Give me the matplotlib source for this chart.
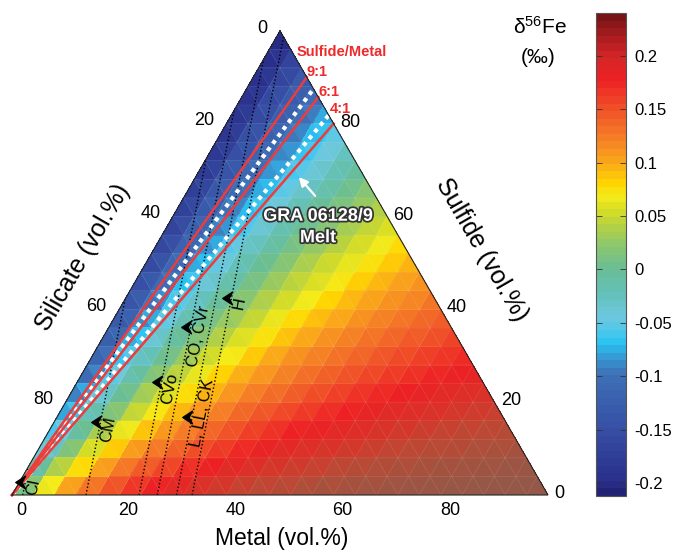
import numpy as np
import matplotlib
matplotlib.use('Agg')
import matplotlib.pyplot as plt
import matplotlib.tri as mtri
from matplotlib.colors import LinearSegmentedColormap, Normalize
from matplotlib.cm import ScalarMappable
from matplotlib.path import Path
import matplotlib.patheffects as pe

plt.rcParams['font.family'] = ['Liberation Sans', 'DejaVu Sans']
plt.rcParams['axes.unicode_minus'] = False
plt.rcParams['mathtext.fontset'] = 'custom'
plt.rcParams['mathtext.rm'] = 'Liberation Sans'
plt.rcParams['mathtext.it'] = 'Liberation Sans:italic'

# delta56Fe (per mil x 1000) at mesh nodes; row i = sulfide i*4 vol.%,
# entry j = metal j*4 vol.% (silicate = remainder)
delta_rows = [
    [0, 63, 103, 132, 154, 170, 184, 194, 203, 211, 217, 223, 228, 232, 236, 239, 242, 245, 247, 250, 252, 254, 255, 257, 259, 260],
    [-31, 32, 75, 106, 129, 148, 163, 175, 185, 194, 201, 208, 213, 218, 223, 227, 230, 233, 236, 239, 242, 244, 246, 248, 250],
    [-55, 7, 50, 83, 108, 128, 144, 157, 168, 178, 186, 193, 200, 205, 210, 215, 219, 223, 226, 229, 232, 235, 237, 239],
    [-76, -15, 29, 62, 88, 109, 126, 140, 152, 163, 172, 180, 187, 193, 198, 203, 208, 212, 216, 219, 223, 225, 228],
    [-93, -34, 10, 44, 70, 92, 110, 125, 138, 149, 158, 167, 174, 181, 187, 193, 198, 202, 206, 210, 213, 217],
    [-108, -50, -7, 27, 54, 76, 95, 111, 124, 136, 146, 155, 163, 170, 176, 182, 188, 192, 197, 201, 205],
    [-120, -64, -21, 12, 40, 62, 81, 97, 111, 123, 134, 143, 152, 159, 166, 172, 178, 183, 188, 192],
    [-131, -77, -35, -1, 26, 49, 68, 85, 99, 112, 123, 133, 141, 149, 156, 163, 169, 174, 179],
    [-140, -88, -47, -14, 14, 37, 56, 73, 88, 101, 112, 122, 131, 140, 147, 154, 160, 166],
    [-149, -98, -58, -25, 2, 25, 45, 62, 77, 90, 102, 112, 122, 130, 138, 145, 151],
    [-156, -108, -68, -36, -9, 15, 34, 52, 67, 80, 92, 103, 113, 121, 129, 137],
    [-163, -116, -77, -45, -18, 5, 25, 42, 57, 71, 83, 94, 104, 113, 121],
    [-169, -123, -86, -54, -28, -5, 15, 33, 48, 62, 74, 85, 96, 105],
    [-175, -130, -94, -63, -36, -13, 7, 24, 40, 54, 66, 77, 88],
    [-180, -137, -101, -70, -44, -22, -2, 16, 31, 45, 58, 69],
    [-184, -143, -108, -78, -52, -29, -10, 8, 24, 38, 50],
    [-188, -148, -114, -84, -59, -37, -17, 1, 16, 30],
    [-192, -153, -120, -91, -66, -43, -24, -6, 9],
    [-196, -158, -125, -97, -72, -50, -31, -13],
    [-199, -162, -130, -102, -78, -56, -37],
    [-202, -166, -135, -108, -83, -62],
    [-205, -170, -139, -113, -89],
    [-208, -174, -144, -117],
    [-210, -177, -148],
    [-213, -180],
    [-215],
]

ratio_values = [9, 6, 4]
ratio_labels = ['9:1', '6:1', '4:1']
melt_ratios = [7, 4.5]
chondrite_names = ['CI', 'CM', 'CVo', 'CO, CVr', 'L, LL, CK', 'H']
chondrite_metal = [0.020, 0.138, 0.237, 0.271, 0.307, 0.336]
arrow_sulfide = [0.028, 0.157, 0.243, 0.362, 0.168, 0.425]
text_sulfide = [0.020, 0.145, 0.232, 0.345, 0.180, 0.416]
tick_values = [0, 20, 40, 60, 80]
cbar_ticks = [-0.2, -0.15, -0.1, -0.05, 0, 0.05, 0.1, 0.15, 0.2]
cbar_ticklabels = ['-0.2', '-0.15', '-0.1', '-0.05', '0', '0.05', '0.1', '0.15', '0.2']

SQ3 = np.sqrt(3) / 2
DIR_M, DIR_S = -0.327, -0.673


def tern(f, m):
    return m + f / 2.0, f * SQ3


def px(xp, yp):
    return (xp - 12) / 536.0, (495 - yp) / 536.0


cbar_stops = [(-0.212, (35, 35, 118)), (-0.2, (42, 48, 140)), (-0.15, (55, 80, 165)),
              (-0.1, (62, 112, 182)), (-0.085, (55, 150, 210)), (-0.07, (40, 195, 242)),
              (-0.058, (80, 200, 235)), (-0.045, (110, 200, 222)), (-0.025, (100, 193, 188)),
              (0.0, (105, 190, 150)), (0.02, (135, 197, 115)), (0.04, (178, 208, 70)),
              (0.055, (212, 220, 38)), (0.07, (245, 235, 25)), (0.082, (255, 212, 0)),
              (0.1, (250, 170, 25)), (0.125, (245, 125, 38)), (0.15, (240, 85, 40)),
              (0.18, (237, 32, 36)), (0.2, (215, 38, 40)), (0.22, (172, 28, 32)),
              (0.24, (120, 20, 22))]
field_extra = [(0.205, (212, 55, 42)), (0.22, (188, 72, 52)), (0.235, (165, 82, 62)),
               (0.25, (150, 87, 70)), (0.27, (140, 90, 74))]


def make_cmap(stops, name, n):
    lo, hi = stops[0][0], stops[-1][0]
    return LinearSegmentedColormap.from_list(
        name, [((v - lo) / (hi - lo), tuple(c / 255 for c in col)) for v, col in stops], N=n), lo, hi


cb_cmap, cb_lo, cb_hi = make_cmap(cbar_stops, 'cb', 64)
field_stops = [s for s in cbar_stops if s[0] <= 0.19] + field_extra
fd_cmap, fd_lo, fd_hi = make_cmap(field_stops, 'fd', 256)

fig = plt.figure(figsize=(6.78, 5.52), dpi=100)
ax = fig.add_axes([0, 0, 1, 1])
ax.set_xlim(-12 / 536, 666 / 536)
ax.set_ylim(-57 / 536, 495 / 536)
ax.axis('off')

xs, ys, vals = [], [], []
n = len(delta_rows) - 1
for i, row in enumerate(delta_rows):
    for j, v in enumerate(row):
        x, y = tern(i / n, j / n)
        xs.append(x); ys.append(y); vals.append(v / 1000.0)
triang = mtri.Triangulation(xs, ys)
ax.tripcolor(triang, vals, cmap=fd_cmap, norm=Normalize(fd_lo, fd_hi), shading='flat',
             edgecolors='none', zorder=1)
ax.triplot(triang, color='white', lw=0.4, alpha=0.15, zorder=2)

arrow_path = Path([(-1.0, 0.0), (0.0, 0.65), (-0.35, 0.0), (0.0, -0.65), (-1.0, 0.0)],
                  [Path.MOVETO, Path.LINETO, Path.LINETO, Path.LINETO, Path.CLOSEPOLY])
ang = np.degrees(np.arctan2(SQ3, DIR_M + 0.5))
for name, p, fa, ft in zip(chondrite_names, chondrite_metal, arrow_sulfide, text_sulfide):
    t = min(p / -DIR_M, (1 - p) / -DIR_S, 1.0)
    x0, y0 = tern(0, p)
    x1, y1 = tern(t, p + DIR_M * t)
    ax.plot([x0, x1], [y0, y1], color='black', lw=1.0, ls=(0, (1, 1.6)), zorder=3)
    xa, ya = tern(fa, p + DIR_M * fa)
    ax.plot([xa], [ya], marker=arrow_path, ms=14, color='black', mec='black', zorder=6)
    xt, yt = tern(ft, p + DIR_M * ft)
    ax.annotate(name, (xt, yt), xytext=(6.5, -1), textcoords='offset points', rotation=ang,
                ha='center', va='center', fontsize=12, zorder=6, rotation_mode='anchor')

for r in melt_ratios:
    q = r / (r + 1.0)
    x1, y1 = tern(q, 1 - q)
    ax.plot([0, x1], [0, y1], color='white', lw=3.0, ls=(0, (1, 1.1)), zorder=4)

ratio_offsets = [(0, 3.6), (0, 3.6), (-2.6, 10.8)]
for r, lab, off in zip(ratio_values, ratio_labels, ratio_offsets):
    q = r / (r + 1.0)
    x1, y1 = tern(q, 1 - q)
    ax.plot([0, x1], [0, y1], color='#ee3b3b', lw=1.8, zorder=5)
    ax.annotate(lab, (x1, y1), xytext=off, textcoords='offset points', ha='left',
                va='center', fontsize=10.5, fontweight='bold', color='#ee2a2a', zorder=7)
ax.text(*px(297, 52), 'Sulfide/Metal', ha='left', va='center', fontsize=10.5,
        fontweight='bold', color='#ee2a2a', zorder=7)

ax.plot([0, 1, 0.5, 0], [0, 0, SQ3, 0], color='#222222', lw=0.8, zorder=5,
        solid_joinstyle='miter')

for v in tick_values:
    x, y = tern(0, v / 100)
    ax.annotate(str(v), (x, y), xytext=(6.5, -11.5), textcoords='offset points',
                ha='center', va='center', fontsize=13)
    x, y = tern(v / 100, 1 - v / 100)
    ax.annotate(str(v), (x, y), xytext=(4.5, 1), textcoords='offset points',
                ha='left', va='center', fontsize=13)
    x, y = tern(1 - v / 100, 0)
    ax.annotate(str(v), (x, y), xytext=(-9, 2), textcoords='offset points',
                ha='right', va='center', fontsize=13)

ax.text(*px(282, 539), 'Metal (vol.%)', ha='center', va='center', fontsize=16.5)
ax.text(*px(83, 258), 'Silicate (vol.%)', ha='center', va='center', fontsize=18, rotation=60)
ax.text(*px(482, 250), 'Sulfide (vol.%)', ha='center', va='center', fontsize=18, rotation=-60)

gra = ax.text(*px(318, 227), 'GRA 06128/9\nMelt', ha='center', va='center', fontsize=13,
              fontweight='bold', color='white', linespacing=1.35, zorder=8)
gra.set_path_effects([pe.withStroke(linewidth=2.5, foreground='#333333')])
ax.annotate('', xy=px(297, 175), xytext=px(317, 198),
            arrowprops=dict(arrowstyle='-|>', color='white', lw=1.6, mutation_scale=13),
            zorder=8)

ax.text(*px(540, 27), 'δ$^{56}$Fe', ha='center', va='center', fontsize=15)
ax.text(*px(538, 57), '(‰)', ha='center', va='center', fontsize=15)

cax = fig.add_axes([596 / 678, 56 / 552, 30 / 678, 483 / 552])
sm = ScalarMappable(norm=Normalize(cb_lo, cb_hi), cmap=cb_cmap)
cb = fig.colorbar(sm, cax=cax)
cb.set_ticks(cbar_ticks)
cb.set_ticklabels(cbar_ticklabels)
cax.tick_params(direction='in', length=4, left=True, right=True, labelsize=12,
                width=0.6, color='#333333', pad=6)
cb.outline.set_edgecolor('#555555')
cb.outline.set_linewidth(0.8)

fig.savefig('out.png', dpi=100)
